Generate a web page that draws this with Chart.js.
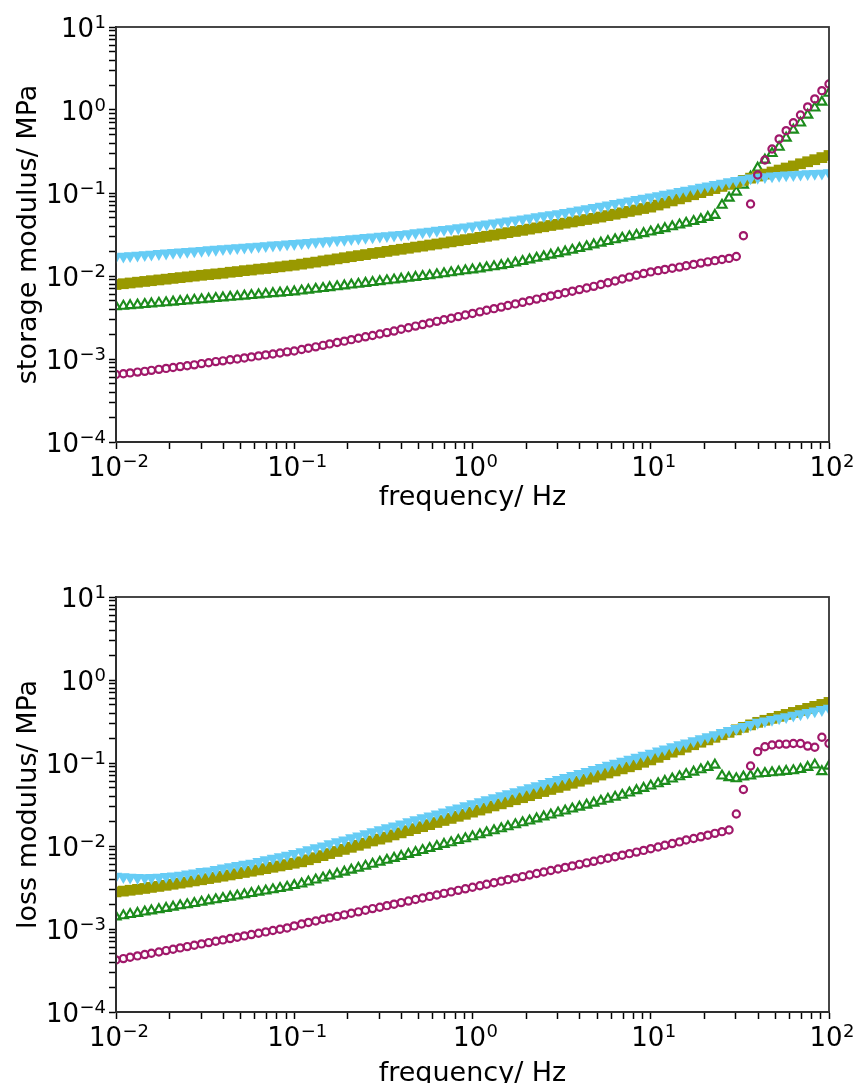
<!DOCTYPE html>
<html>
<head>
<meta charset="utf-8">
<script src="https://cdn.jsdelivr.net/npm/chart.js@4"></script>
<style>
  html, body { margin: 0; padding: 0; background: #fff; overflow: hidden; }
  #wrap { position: relative; width: 858px; height: 1083px; overflow: hidden; }
  canvas { position: absolute; left: 0; }
  #storage { top: 0; }
  #loss { top: 540px; }
</style>
</head>
<body>
<div id="wrap">
  <canvas id="storage" width="858" height="540"></canvas>
  <canvas id="loss" width="858" height="560"></canvas>
</div>
<script>
// Frequency sweep, 25 points per decade (Hz)
const frequency = [
  0.01, 0.011, 0.012, 0.0132, 0.0145, 0.0158, 0.0174, 0.0191, 0.0209, 0.0229,
  0.0251, 0.0275, 0.0302, 0.0331, 0.0363, 0.0398, 0.0437, 0.0479, 0.0525, 0.0575,
  0.0631, 0.0692, 0.0759, 0.0832, 0.0912, 0.1, 0.11, 0.12, 0.132, 0.145,
  0.158, 0.174, 0.191, 0.209, 0.229, 0.251, 0.275, 0.302, 0.331, 0.363,
  0.398, 0.437, 0.479, 0.525, 0.575, 0.631, 0.692, 0.759, 0.832, 0.912,
  1, 1.1, 1.2, 1.32, 1.45, 1.58, 1.74, 1.91, 2.09, 2.29,
  2.51, 2.75, 3.02, 3.31, 3.63, 3.98, 4.37, 4.79, 5.25, 5.75,
  6.31, 6.92, 7.59, 8.32, 9.12, 10, 11, 12, 13.2, 14.5,
  15.8, 17.4, 19.1, 20.9, 22.9, 25.1, 27.5, 30.2, 33.1, 36.3,
  39.8, 43.7, 47.9, 52.5, 57.5, 63.1, 69.2, 75.9, 83.2, 91.2,
  100
];

// Storage modulus G' (MPa)
const storagePurple = [
  0.00065, 0.000665, 0.00068, 0.000695, 0.00071, 0.00073, 0.00075, 0.00077, 0.00079, 0.00081,
  0.00083, 0.00085, 0.00088, 0.0009, 0.00093, 0.00095, 0.00098, 0.001, 0.00103, 0.00106,
  0.00109, 0.00112, 0.00115, 0.00118, 0.00122, 0.00125, 0.0013, 0.00135, 0.0014, 0.00146,
  0.00152, 0.00158, 0.00164, 0.00171, 0.00178, 0.00185, 0.00192, 0.002, 0.00208, 0.00217,
  0.00228, 0.00238, 0.00249, 0.0026, 0.00272, 0.00284, 0.00297, 0.0031, 0.00324, 0.00339,
  0.00354, 0.0037, 0.00387, 0.00404, 0.00422, 0.00441, 0.00461, 0.00482, 0.00504, 0.00527,
  0.0055, 0.00575, 0.006, 0.00628, 0.00656, 0.00686, 0.00717, 0.0075, 0.0079, 0.0083,
  0.0087, 0.0092, 0.0097, 0.0102, 0.0107, 0.0112, 0.0116, 0.012, 0.0124, 0.0128,
  0.0133, 0.0138, 0.0143, 0.0148, 0.0153, 0.0158, 0.0163, 0.0172, 0.0306, 0.0736,
  0.165, 0.25, 0.339, 0.448, 0.564, 0.703, 0.871, 1.09, 1.36, 1.71,
  2.06
];
const storageGreen = [
  0.00427, 0.00434, 0.00441, 0.00448, 0.00456, 0.00463, 0.00471, 0.00479, 0.00487, 0.00495,
  0.00503, 0.00512, 0.0052, 0.00529, 0.00538, 0.00547, 0.00556, 0.00565, 0.00575, 0.00585,
  0.00595, 0.00605, 0.00615, 0.00625, 0.00636, 0.00646, 0.00662, 0.00678, 0.00694, 0.0071,
  0.00727, 0.00745, 0.00763, 0.00781, 0.008, 0.00819, 0.00839, 0.00859, 0.0088, 0.009,
  0.0092, 0.00943, 0.00966, 0.0099, 0.0101, 0.0104, 0.0107, 0.011, 0.0113, 0.0116,
  0.0119, 0.0122, 0.0126, 0.013, 0.0134, 0.0138, 0.0144, 0.015, 0.0157, 0.0164,
  0.0171, 0.0179, 0.0187, 0.0196, 0.0205, 0.0215, 0.0226, 0.0238, 0.025, 0.0262,
  0.0274, 0.0286, 0.0298, 0.0311, 0.0325, 0.034, 0.0356, 0.0374, 0.0393, 0.0413,
  0.0434, 0.0456, 0.0482, 0.051, 0.054, 0.0716, 0.087, 0.103, 0.125, 0.156,
  0.2, 0.25, 0.3, 0.358, 0.46, 0.574, 0.7, 0.87, 1.06, 1.25,
  1.6
];
const storageOlive = [
  0.0079, 0.00807, 0.00824, 0.00842, 0.0086, 0.00878, 0.00897, 0.00916, 0.00936, 0.00956,
  0.00976, 0.00997, 0.0102, 0.0104, 0.0106, 0.0108, 0.0111, 0.0113, 0.0116, 0.0118,
  0.0121, 0.0123, 0.0126, 0.0129, 0.0132, 0.0135, 0.0139, 0.0143, 0.0147, 0.0152,
  0.0156, 0.0161, 0.0166, 0.0171, 0.0176, 0.0181, 0.0187, 0.0192, 0.0198, 0.0204,
  0.021, 0.0216, 0.0223, 0.0229, 0.0236, 0.0243, 0.025, 0.0258, 0.0266, 0.0274,
  0.0282, 0.0292, 0.0301, 0.0311, 0.0322, 0.0333, 0.0344, 0.0355, 0.0367, 0.038,
  0.0392, 0.0406, 0.0419, 0.0433, 0.0448, 0.0463, 0.0479, 0.0495, 0.0513, 0.0534,
  0.0555, 0.0577, 0.06, 0.0624, 0.065, 0.0676, 0.0716, 0.0758, 0.0803, 0.085,
  0.09, 0.0953, 0.101, 0.107, 0.113, 0.12, 0.127, 0.134, 0.142, 0.151,
  0.16, 0.169, 0.179, 0.189, 0.2, 0.212, 0.225, 0.238, 0.252, 0.267,
  0.283
];
const storageBlue = [
  0.017, 0.01725, 0.0175, 0.01776, 0.01802, 0.01829, 0.01856, 0.01883, 0.01911, 0.01939,
  0.01968, 0.01997, 0.0203, 0.0206, 0.0209, 0.0212, 0.0215, 0.0218, 0.0221, 0.0225,
  0.0228, 0.0231, 0.0235, 0.0238, 0.0242, 0.0245, 0.0249, 0.0253, 0.0258, 0.0262,
  0.0266, 0.0271, 0.0275, 0.028, 0.0285, 0.029, 0.0295, 0.03, 0.0305, 0.031,
  0.0316, 0.0323, 0.0331, 0.0338, 0.0346, 0.0354, 0.0362, 0.037, 0.0379, 0.0388,
  0.0398, 0.041, 0.0421, 0.0434, 0.0446, 0.0459, 0.0473, 0.0486, 0.05, 0.0515,
  0.053, 0.0546, 0.0562, 0.0581, 0.0602, 0.0623, 0.0645, 0.0668, 0.0692, 0.0717,
  0.0744, 0.0771, 0.08, 0.083, 0.086, 0.0891, 0.0926, 0.0962, 0.1, 0.104,
  0.108, 0.112, 0.117, 0.121, 0.126, 0.131, 0.136, 0.141, 0.146, 0.151,
  0.154, 0.157, 0.16, 0.162, 0.164, 0.166, 0.168, 0.17, 0.171, 0.173,
  0.175
];

// Loss modulus G'' (MPa)
const lossPurple = [
  0.000424, 0.00044, 0.000457, 0.000474, 0.000492, 0.00051, 0.000529, 0.000549, 0.00057, 0.000592,
  0.000614, 0.000637, 0.000661, 0.000686, 0.000712, 0.000739, 0.000767, 0.000796, 0.000826, 0.000857,
  0.000889, 0.000923, 0.000958, 0.000994, 0.00103, 0.00109, 0.00115, 0.0012, 0.00125, 0.00131,
  0.00136, 0.00142, 0.00148, 0.00155, 0.00161, 0.00168, 0.00176, 0.00183, 0.00191, 0.00199,
  0.00208, 0.00217, 0.00227, 0.00236, 0.00247, 0.00257, 0.00269, 0.0028, 0.00292, 0.00305,
  0.00318, 0.00332, 0.00346, 0.00361, 0.00377, 0.00393, 0.0041, 0.00428, 0.00447, 0.00466,
  0.00486, 0.00507, 0.00529, 0.00552, 0.00576, 0.00601, 0.00627, 0.00654, 0.00683, 0.00712,
  0.00743, 0.00775, 0.00809, 0.00844, 0.00885, 0.00928, 0.00973, 0.0102, 0.0107, 0.0112,
  0.0118, 0.0123, 0.0129, 0.0135, 0.0142, 0.0149, 0.0156, 0.0243, 0.048, 0.092,
  0.137, 0.157, 0.165, 0.168, 0.169, 0.172, 0.172, 0.16, 0.155, 0.204,
  0.172
];
const lossGreen = [
  0.0014, 0.00145, 0.0015, 0.00155, 0.00161, 0.00166, 0.00172, 0.00178, 0.00184, 0.00191,
  0.00197, 0.00204, 0.00211, 0.00219, 0.00226, 0.00234, 0.00243, 0.00251, 0.0026, 0.00269,
  0.00279, 0.00288, 0.00298, 0.00309, 0.0032, 0.00335, 0.0035, 0.0037, 0.00391, 0.00413,
  0.00436, 0.0046, 0.00486, 0.00514, 0.00542, 0.00573, 0.00605, 0.00639, 0.00675, 0.00713,
  0.00753, 0.00795, 0.0084, 0.00887, 0.00937, 0.0099, 0.0105, 0.011, 0.0117, 0.0123,
  0.013, 0.0137, 0.0145, 0.0153, 0.0162, 0.0171, 0.0181, 0.0191, 0.0201, 0.0213,
  0.0225, 0.0237, 0.0251, 0.0265, 0.028, 0.0295, 0.0312, 0.033, 0.0348, 0.0368,
  0.0388, 0.041, 0.0437, 0.0466, 0.0497, 0.053, 0.0565, 0.0603, 0.0643, 0.0686,
  0.0731, 0.078, 0.0832, 0.0887, 0.0946, 0.07, 0.067, 0.065, 0.068, 0.07,
  0.074, 0.075, 0.0765, 0.078, 0.0795, 0.081, 0.084, 0.089, 0.095, 0.079,
  0.092
];
const lossOlive = [
  0.0028, 0.00286, 0.00293, 0.003, 0.00308, 0.00317, 0.00326, 0.00336, 0.00346, 0.00357,
  0.00368, 0.0038, 0.00392, 0.00405, 0.00419, 0.00433, 0.00448, 0.00464, 0.0048, 0.00497,
  0.00515, 0.00534, 0.00554, 0.00575, 0.00597, 0.0062, 0.00645, 0.00683, 0.00723, 0.00766,
  0.00811, 0.00859, 0.0091, 0.00964, 0.0102, 0.0108, 0.0115, 0.0121, 0.0128, 0.0136,
  0.0144, 0.0153, 0.0162, 0.0171, 0.0181, 0.0192, 0.0203, 0.0215, 0.0228, 0.0241,
  0.0256, 0.0271, 0.0287, 0.0304, 0.0322, 0.0341, 0.0361, 0.0382, 0.0404, 0.0428,
  0.0453, 0.048, 0.0508, 0.0538, 0.057, 0.0603, 0.0639, 0.0676, 0.0716, 0.0758,
  0.0803, 0.085, 0.09, 0.0953, 0.102, 0.109, 0.117, 0.126, 0.135, 0.144,
  0.155, 0.166, 0.178, 0.19, 0.204, 0.219, 0.234, 0.251, 0.269, 0.288,
  0.309, 0.327, 0.345, 0.365, 0.385, 0.407, 0.43, 0.455, 0.481, 0.508,
  0.537
];
const lossBlue = [
  0.0043, 0.00425, 0.0042, 0.00415, 0.00413, 0.00415, 0.0042, 0.00427, 0.00435, 0.00444,
  0.0046, 0.0047, 0.0049, 0.005, 0.0052, 0.0054, 0.0056, 0.0058, 0.006, 0.0062,
  0.0065, 0.0068, 0.0071, 0.0074, 0.0077, 0.0081, 0.0085, 0.009, 0.0095, 0.01,
  0.0106, 0.0112, 0.0118, 0.0125, 0.0132, 0.014, 0.0148, 0.0156, 0.0165, 0.0174,
  0.0184, 0.0195, 0.0206, 0.0218, 0.023, 0.0243, 0.0257, 0.0272, 0.0287, 0.0304,
  0.0321, 0.034, 0.0359, 0.038, 0.0402, 0.0425, 0.045, 0.0476, 0.0503, 0.0532,
  0.0563, 0.0596, 0.063, 0.0667, 0.0705, 0.0746, 0.0789, 0.0835, 0.0883, 0.0934,
  0.0988, 0.1045, 0.1106, 0.117, 0.124, 0.131, 0.139, 0.147, 0.156, 0.165,
  0.174, 0.185, 0.195, 0.207, 0.219, 0.232, 0.245, 0.26, 0.275, 0.291,
  0.308, 0.32, 0.333, 0.347, 0.361, 0.375, 0.39, 0.406, 0.422, 0.439,
  0.457
];

// Axis decades: tick label = base + superscript exponent
const tickBase = '10';
const xTickValues = [0.01, 0.1, 1, 10, 100];
const xTickExponents = ['\u22122', '\u22121', '0', '1', '2'];
const yTickValues = [1e-4, 1e-3, 1e-2, 1e-1, 1, 10];
const yTickExponents = ['\u22124', '\u22123', '\u22122', '\u22121', '0', '1'];

const xTitle = 'frequency/ Hz';
const storageTitle = 'storage modulus/ MPa';
const lossTitle = 'loss modulus/ MPa';

const COLORS = {
  purple: '#a0186a',
  green: '#1c8c1c',
  olive: '#999900',
  blue: '#66ccf5'
};

const BASE_FONT = '26px "DejaVu Sans"';
const EXP_FONT = '18px "DejaVu Sans"';
const TITLE_FONT = { family: 'DejaVu Sans', size: 27 };

// decades plus 2..9 minor ticks
function logTicks(decades) {
  const out = [];
  for (let i = 0; i < decades.length; i++) {
    out.push({ value: decades[i] });
    if (i < decades.length - 1) {
      for (let k = 2; k <= 9; k++) out.push({ value: decades[i] * k });
    }
  }
  return out;
}

// closed box around the plotting area
const frameBox = {
  id: 'frameBox',
  afterDraw(chart) {
    const { ctx, chartArea: a } = chart;
    ctx.save();
    ctx.strokeStyle = '#333';
    ctx.lineWidth = 1.8;
    ctx.strokeRect(a.left, a.top, a.right - a.left, a.bottom - a.top);
    ctx.restore();
  }
};

// "10" with a raised exponent at every decade of both log axes
const powerLabels = {
  id: 'powerLabels',
  afterDraw(chart) {
    const { ctx } = chart;
    const xs = chart.scales.x, ys = chart.scales.y;
    ctx.save();
    ctx.fillStyle = '#000';
    ctx.textBaseline = 'alphabetic';
    ctx.textAlign = 'left';
    const measure = (txt, font) => { ctx.font = font; return ctx.measureText(txt).width; };
    const draw = (x, yMid, exp) => {
      ctx.font = BASE_FONT;
      ctx.fillText(tickBase, x, yMid + 9.5);
      const bw = ctx.measureText(tickBase).width;
      ctx.font = EXP_FONT;
      ctx.fillText(exp, x + bw + 0.5, yMid + 0.5);
    };
    yTickValues.forEach((v, i) => {
      const py = ys.getPixelForValue(v);
      const w = measure(tickBase, BASE_FONT) + 0.5 + measure(yTickExponents[i], EXP_FONT);
      draw(ys.right - 10 - w, py, yTickExponents[i]);
    });
    xTickValues.forEach((v, i) => {
      const px = xs.getPixelForValue(v);
      const w = measure(tickBase, BASE_FONT) + 0.5 + measure(xTickExponents[i], EXP_FONT);
      draw(px - w / 2 + 3, xs.top + 24, xTickExponents[i]);
    });
    ctx.restore();
  }
};

function seriesSet(purple, green, olive, blue) {
  const pts = arr => frequency.map((f, i) => ({ x: f, y: arr[i] }));
  return [
    { label: 'purple', data: pts(purple), pointStyle: 'circle', pointRadius: 3.6, pointBorderWidth: 2.2,
      pointBorderColor: COLORS.purple, pointBackgroundColor: 'rgba(255,255,255,0)' },
    { label: 'blue', data: pts(blue), pointStyle: 'triangle', pointRotation: 180, pointRadius: 7.2, pointBorderWidth: 0,
      pointBorderColor: COLORS.blue, pointBackgroundColor: COLORS.blue },
    { label: 'olive', data: pts(olive), pointStyle: 'rect', pointRadius: 7.6, pointBorderWidth: 0,
      pointBorderColor: COLORS.olive, pointBackgroundColor: COLORS.olive },
    { label: 'green', data: pts(green), pointStyle: 'triangle', pointRadius: 5.3, pointBorderWidth: 2.1,
      pointBorderColor: COLORS.green, pointBackgroundColor: 'rgba(255,255,255,0)' }
  ].map(d => Object.assign(d, { showLine: false, clip: 0 }));
}

function makePanel(canvasId, yTitle, datasets, topPad, xAxisHeight, xTitleBottom) {
  return new Chart(document.getElementById(canvasId), {
    type: 'scatter',
    data: { datasets },
    options: {
      responsive: false,
      animation: false,
      events: [],
      layout: { padding: { top: topPad, right: 29, bottom: 0, left: 0 } },
      plugins: { legend: { display: false }, tooltip: { enabled: false } },
      scales: {
        x: {
          type: 'logarithmic',
          min: 0.01, max: 100,
          afterBuildTicks: s => { s.ticks = logTicks(xTickValues); },
          afterFit: s => { s.height = xAxisHeight; },
          ticks: { display: false, autoSkip: false },
          grid: { drawOnChartArea: false, drawTicks: true, tickLength: 7, tickColor: '#000', tickWidth: 1.5 },
          border: { display: true, color: '#000', width: 2 },
          title: { display: true, text: xTitle, color: '#000', font: TITLE_FONT,
                   padding: { top: 0, bottom: xTitleBottom } }
        },
        y: {
          type: 'logarithmic',
          min: 1e-4, max: 10,
          afterBuildTicks: s => { s.ticks = logTicks(yTickValues); },
          afterFit: s => { s.width = 116; },
          ticks: { display: false, autoSkip: false },
          grid: { drawOnChartArea: false, drawTicks: true, tickLength: 7, tickColor: '#000', tickWidth: 1.5 },
          border: { display: true, color: '#000', width: 2 },
          title: { display: true, text: yTitle, color: '#000', font: TITLE_FONT,
                   padding: { top: 13, bottom: 0 } }
        }
      }
    },
    plugins: [frameBox, powerLabels]
  });
}

makePanel('storage', storageTitle,
  seriesSet(storagePurple, storageGreen, storageOlive, storageBlue), 27, 98, 26);
makePanel('loss', lossTitle,
  seriesSet(lossPurple, lossGreen, lossOlive, lossBlue), 57, 88, 10);
</script>
</body>
</html>
